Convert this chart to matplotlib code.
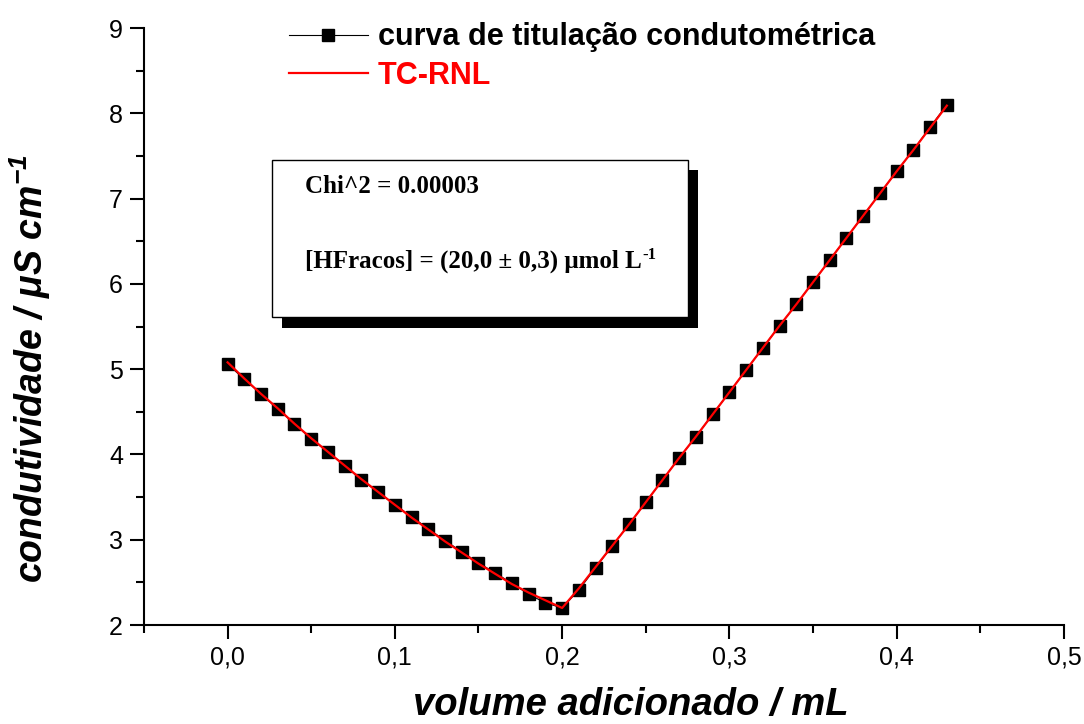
import matplotlib
matplotlib.use("Agg")
import matplotlib.pyplot as plt
import matplotlib.ticker as mticker
from matplotlib.lines import Line2D
from matplotlib.patches import Rectangle

# ── data ─────────────────────────────────────────────────────────────────────
volume = [0.00, 0.01, 0.02, 0.03, 0.04, 0.05, 0.06, 0.07, 0.08, 0.09,
          0.10, 0.11, 0.12, 0.13, 0.14, 0.15, 0.16, 0.17, 0.18, 0.19,
          0.20, 0.21, 0.22, 0.23, 0.24, 0.25, 0.26, 0.27, 0.28, 0.29,
          0.30, 0.31, 0.32, 0.33, 0.34, 0.35, 0.36, 0.37, 0.38, 0.39,
          0.40, 0.41, 0.42, 0.43]
condut = [5.06, 4.88, 4.71, 4.53, 4.36, 4.18, 4.03, 3.87, 3.70, 3.56,
          3.41, 3.27, 3.13, 2.99, 2.86, 2.73, 2.61, 2.49, 2.36, 2.26,
          2.20, 2.41, 2.67, 2.93, 3.18, 3.44, 3.70, 3.96, 4.21, 4.47,
          4.73, 4.99, 5.25, 5.51, 5.76, 6.02, 6.28, 6.54, 6.80, 7.06,
          7.32, 7.57, 7.84, 8.10]
ajuste = [5.08, 4.89, 4.71, 4.54, 4.36, 4.19, 4.03, 3.87, 3.71, 3.56,
          3.41, 3.26, 3.12, 2.98, 2.85, 2.72, 2.60, 2.48, 2.38, 2.29,
          2.20, 2.43, 2.68, 2.93, 3.18, 3.44, 3.70, 3.96, 4.21, 4.47,
          4.73, 4.99, 5.25, 5.51, 5.76, 6.02, 6.28, 6.54, 6.80, 7.06,
          7.32, 7.57, 7.83, 8.09]

x_ticks = [0.0, 0.1, 0.2, 0.3, 0.4, 0.5]
y_ticks = [2, 3, 4, 5, 6, 7, 8, 9]

SANS = ["Liberation Sans", "DejaVu Sans"]
SERIF = ["Liberation Serif", "DejaVu Serif"]

plt.rcParams["mathtext.fontset"] = "custom"
plt.rcParams["mathtext.rm"] = "Liberation Sans:bold:italic"
plt.rcParams["mathtext.it"] = "Liberation Sans:bold:italic"
plt.rcParams["mathtext.bf"] = "Liberation Sans:bold:italic"

fig = plt.figure(figsize=(10.84, 7.24), dpi=100)
ax = fig.add_axes([0.1328, 0.1367, 0.8487, 0.8246])

ax.plot(volume, condut, color="black", linewidth=0.8, marker="s",
        markersize=9, markerfacecolor="black", markeredgecolor="black",
        zorder=3)
ax.plot(volume, ajuste, color="#FF0000", linewidth=1.6, zorder=4)

ax.set_xlim(-0.05, 0.5)
ax.set_ylim(2, 9)

# ── axes styling (Origin look: left + bottom only) ───────────────────────────
for side in ("top", "right"):
    ax.spines[side].set_visible(False)
for side in ("left", "bottom"):
    ax.spines[side].set_linewidth(1.5)

ax.set_xticks(x_ticks)
ax.set_yticks(y_ticks)
ax.xaxis.set_minor_locator(mticker.MultipleLocator(0.05))
ax.yaxis.set_minor_locator(mticker.MultipleLocator(0.5))
ax.xaxis.set_major_formatter(
    mticker.FuncFormatter(lambda v, p: f"{v:.1f}".replace(".", ",")))
ax.tick_params(which="major", direction="out", length=10, width=1.5,
               labelsize=18, pad=5)
ax.tick_params(which="minor", direction="out", length=5.5, width=1.5)
for lab in ax.get_xticklabels() + ax.get_yticklabels():
    lab.set_family(SANS)

ax.set_xlabel("volume adicionado / mL", fontsize=27.5, family=SANS,
              fontweight="bold", fontstyle="italic")
ax.xaxis.set_label_coords(0.529, -0.104)
ax.set_ylabel("condutividade / μS cm$^{-1}$", fontsize=27, family=SANS,
              fontweight="bold", fontstyle="italic")
ax.yaxis.set_label_coords(-0.099, 0.43)

# ── legend ───────────────────────────────────────────────────────────────────
handles = [
    Line2D([], [], color="black", linewidth=0.8, marker="s", markersize=9),
    Line2D([], [], color="#FF0000", linewidth=1.6),
]
leg = ax.legend(handles, ["curva de titulação condutométrica", "TC-RNL"],
                loc="upper left", bbox_to_anchor=(0.1406, 1.035),
                frameon=False, handlelength=2.6, handletextpad=0.33,
                labelspacing=0.28, borderpad=0,
                prop={"family": SANS, "weight": "bold", "size": 22})
leg.get_texts()[1].set_color("#FF0000")

# ── result box with drop shadow ──────────────────────────────────────────────
ax.add_patch(Rectangle((0.1497, 0.4975), 0.4522, 0.2647, transform=ax.transAxes,
                       facecolor="black", edgecolor="none", zorder=5))
ax.add_patch(Rectangle((0.1391, 0.5164), 0.4522, 0.2630, transform=ax.transAxes,
                       facecolor="white", edgecolor="black", linewidth=1.0,
                       zorder=6))
ax.text(0.175, 0.7236, "Chi^2 = 0.00003", transform=ax.transAxes,
        family=SERIF, fontweight="bold", fontsize=18, va="baseline",
        ha="left", zorder=7)
conc = ax.text(0.175, 0.598, "[HFracos] = (20,0 ± 0,3) μmol L",
               transform=ax.transAxes, family=SERIF, fontweight="bold",
               fontsize=18, va="baseline", ha="left", zorder=7)
ax.annotate("-1", xy=(1.0, 1.0), xycoords=conc, xytext=(0.5, 2),
            textcoords="offset points", family=SERIF, fontweight="bold",
            fontsize=12, va="top", ha="left", zorder=7)

fig.savefig("out.png", dpi=100, facecolor="white")
